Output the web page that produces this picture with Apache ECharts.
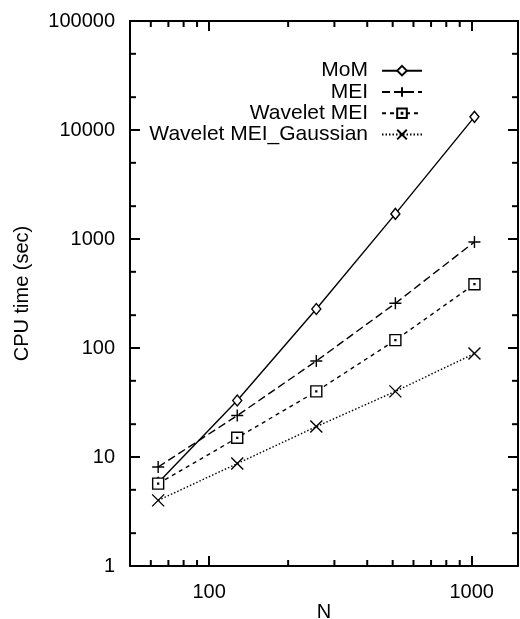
<!DOCTYPE html>
<html>
<head>
<meta charset="utf-8">
<script src="https://cdn.jsdelivr.net/npm/echarts@6/dist/echarts.min.js"></script>
<style>
  html, body { margin: 0; padding: 0; background: #fff; }
  #chart { width: 520px; height: 619px; }
</style>
</head>
<body>
<div id="chart"></div>
<script>
// problem size N and CPU time (sec) for each method
var sizes = [64, 128, 256, 512, 1024];
var momTime = [5.8, 33, 228, 1700, 13200];
var meiTime = [8.1, 24, 76, 257, 940];
var waveletMeiTime = [5.7, 15, 40, 118, 385];
var waveletGaussTime = [4.0, 8.7, 19, 40, 89];

// axis ranges and minor tick positions
var xRange = [50, 1500];
var yRange = [1, 100000];
var xMinorTicks = [60, 70, 80, 90, 200, 300, 400, 500, 600, 700, 800, 900];
var yMinorTicks = [2, 5, 20, 50, 200, 500, 2000, 5000, 20000, 50000];

function pairs(xs, ys) {
    var out = [];
    for (var i = 0; i < xs.length; i++) out.push([xs[i], ys[i]]);
    return out;
}

var font = 'Liberation Sans, Arial, sans-serif';
var black = '#000';
var minorLen = 6;

function powerLabel(v) {
    var l = Math.log10(v);
    return Math.abs(l - Math.round(l)) < 1e-6 ? String(Math.round(v)) : '';
}

function lineSeries(name, data, symbol, size, dash) {
    return {
        name: name,
        type: 'line',
        data: data,
        symbol: symbol,
        symbolSize: size,
        showSymbol: true,
        lineStyle: { color: black, width: 1.4, type: dash },
        itemStyle: { color: '#fff', borderColor: black, borderWidth: 1.4 },
        z: 3
    };
}

function tickLine(x1, y1, x2, y2) {
    return { type: 'line', shape: { x1: x1, y1: y1, x2: x2, y2: y2 },
             style: { stroke: black, lineWidth: 2 } };
}

// minor ticks on bottom and top
var xMinorSeries = {
    type: 'custom',
    name: 'xMinor',
    data: xMinorTicks.map(function (v) { return [v, yRange[0]]; }),
    clip: false,
    silent: true,
    z: 10,
    renderItem: function (params, api) {
        var v = api.value(0);
        var a = api.coord([v, yRange[0]]);
        var b = api.coord([v, yRange[1]]);
        return { type: 'group', children: [
            tickLine(a[0], a[1], a[0], a[1] - minorLen),
            tickLine(b[0], b[1], b[0], b[1] + minorLen)
        ] };
    }
};

// minor ticks on left and right
var yMinorSeries = {
    type: 'custom',
    name: 'yMinor',
    data: yMinorTicks.map(function (v) { return [xRange[0], v]; }),
    clip: false,
    silent: true,
    z: 10,
    renderItem: function (params, api) {
        var w = api.value(1);
        var a = api.coord([xRange[0], w]);
        var b = api.coord([xRange[1], w]);
        return { type: 'group', children: [
            tickLine(a[0], a[1], a[0] + minorLen, a[1]),
            tickLine(b[0], b[1], b[0] - minorLen, b[1])
        ] };
    }
};

function frameAxis(extra) {
    var ax = {
        type: 'log',
        axisLine: { show: true, lineStyle: { color: black, width: 2 } },
        axisTick: { show: true, inside: true, length: 10, lineStyle: { color: black, width: 2 } },
        axisLabel: { show: false },
        splitLine: { show: false }
    };
    for (var k in extra) ax[k] = extra[k];
    return ax;
}

var chart = echarts.init(document.getElementById('chart'));
var option = {
    backgroundColor: '#fff',
    animation: false,
    textStyle: { fontFamily: font, color: black },
    grid: { left: 130, right: 2, top: 21, bottom: 53, outerBoundsMode: 'none' },
    legend: {
        data: ['MoM', 'MEI', 'Wavelet MEI', 'Wavelet MEI_Gaussian'],
        orient: 'vertical',
        align: 'right',
        right: 92,
        top: 55,
        itemWidth: 40,
        itemHeight: 12,
        itemGap: 0,
        textStyle: {
            fontFamily: font, fontSize: 21, color: black,
            width: 250, align: 'right', lineHeight: 21.3, padding: [0, 9, 0, 0]
        }
    },
    xAxis: [
        frameAxis({
            min: xRange[0], max: xRange[1],
            name: 'N', nameLocation: 'middle', nameGap: 36, nameMoveOverlap: false,
            nameTextStyle: { fontFamily: font, fontSize: 20, color: black },
            axisLabel: { show: true, formatter: powerLabel, fontFamily: font, fontSize: 20, color: black, margin: 16 }
        }),
        frameAxis({ min: xRange[0], max: xRange[1], position: 'top' })
    ],
    yAxis: [
        frameAxis({
            min: yRange[0], max: yRange[1],
            name: 'CPU time (sec)', nameLocation: 'middle', nameGap: 98, nameMoveOverlap: false,
            nameTextStyle: { fontFamily: font, fontSize: 20, color: black },
            axisLabel: { show: true, formatter: powerLabel, fontFamily: font, fontSize: 20, color: black, margin: 15 }
        }),
        frameAxis({ min: yRange[0], max: yRange[1], position: 'right' })
    ],
    series: [
        lineSeries('MoM', pairs(sizes, momTime), 'diamond', [9, 11], 'solid'),
        lineSeries('MEI', pairs(sizes, meiTime), 'path://M0,5L10,5M5,0L5,10', 12, [8, 4]),
        lineSeries('Wavelet MEI', pairs(sizes, waveletMeiTime),
            'path://M0,0L10,0L10,10L0,10ZM4.6,4.6L5.4,4.6L5.4,5.4L4.6,5.4Z', 11, [4, 4]),
        lineSeries('Wavelet MEI_Gaussian', pairs(sizes, waveletGaussTime),
            'path://M0,0L10,10M10,0L0,10', 12, [1.5, 2]),
        xMinorSeries,
        yMinorSeries
    ]
};
chart.setOption(option);
</script>
</body>
</html>
